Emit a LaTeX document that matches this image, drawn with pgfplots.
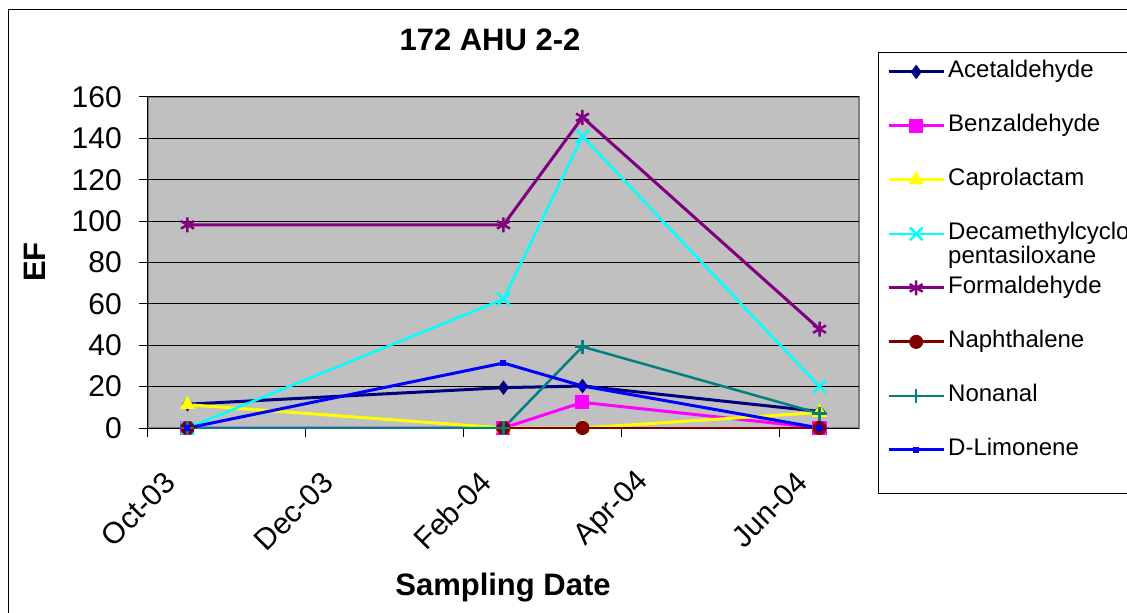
\documentclass[border=0pt]{standalone}
\usepackage{fontspec}
\setmainfont{Liberation Sans}
\usepackage{pgfplots}
\pgfplotsset{compat=1.18}
\definecolor{cNavy}{RGB}{0,0,128}
\definecolor{cMag}{RGB}{255,0,255}
\definecolor{cYel}{RGB}{255,255,0}
\definecolor{cCyan}{RGB}{0,255,255}
\definecolor{cPurp}{RGB}{128,0,128}
\definecolor{cDRed}{RGB}{128,0,0}
\definecolor{cTeal}{RGB}{0,128,128}
\definecolor{cBlue}{RGB}{0,0,255}
\definecolor{cPlot}{RGB}{192,192,192}
\definecolor{cBorder}{RGB}{128,128,128}
\begin{document}
\begin{tikzpicture}
\useasboundingbox (-148bp,-185bp) rectangle (979bp,428bp);
\draw[black, line width=1bp] (-139bp,-200bp) -- (-139bp,418bp) -- (1000bp,418bp);
\draw[black, line width=1bp] (730bp,375bp) rectangle (1000bp,-65bp);
\begin{axis}[
  scale only axis, width=711bp, height=331bp,
  xmin=0, xmax=9, ymin=0, ymax=160,
  axis lines*=left, axis line style={-, black, line width=1bp},
  axis background/.style={fill=cPlot, draw=cBorder, line width=1.5bp},
  xtick={0,2,4,6,8}, xticklabels={Oct-03,Dec-03,Feb-04,Apr-04,Jun-04},
  ytick={0,20,...,160},
  tick align=outside, major tick length=9bp,
  tick style={black, line width=1bp},
  ymajorgrids, grid style={black, line width=1bp},
  tick label style={font=\fontsize{30bp}{36bp}\selectfont},
  /pgf/number format/assume math mode=true,
  xticklabel style={xshift=22bp, yshift=-40bp, rotate=45, anchor=east, inner sep=0pt},
  yticklabel style={xshift=-17bp, anchor=east, inner sep=0pt},
  legend style={at={(1.0394,1.1097)}, anchor=north west, draw=none, fill=none, inner sep=0pt,
    font=\fontsize{24bp}{22bp}\selectfont,
    nodes={inner sep=0pt, text height=17bp, text depth=5bp},
    row sep=32bp, column sep=3bp},
  legend cell align=left,
  legend image code/.code={\draw[mark repeat=2, mark phase=2] plot coordinates {(0bp,0bp) (27.5bp,0bp) (55bp,0bp)};},
]
\addplot[cNavy, line width=3bp, mark=diamond*, mark size=6.5bp, mark options={solid, fill=cNavy, line width=1bp}]
  coordinates {(0.5,11.5) (4.5,19.5) (5.5,20.3) (8.5,8)};
\addlegendentry{Acetaldehyde}
\addplot[cMag, line width=3bp, mark=square*, mark size=6.5bp, mark options={solid, fill=cMag, line width=1bp}]
  coordinates {(0.5,0) (4.5,0) (5.5,12.4) (8.5,0)};
\addlegendentry{Benzaldehyde}
\addplot[cYel, line width=3bp, mark=triangle*, mark size=8bp, mark options={solid, fill=cYel, line width=1bp}]
  coordinates {(0.5,11.3) (4.5,0) (5.5,0) (8.5,7.5)};
\addlegendentry{Caprolactam}
\addplot[cCyan, line width=2.5bp, mark=x, mark size=9bp, mark options={solid, line width=2.5bp}]
  coordinates {(0.5,0) (4.5,62.3) (5.5,141) (8.5,20)};
\addlegendentry{\begin{tabular}[t]{@{}l@{}}Decamethylcyclo\\pentasiloxane\end{tabular}}
\addplot[cPurp, line width=3bp, mark=asterisk, mark size=7.5bp, mark options={solid, line width=2.5bp}]
  coordinates {(0.5,98.2) (4.5,98.2) (5.5,150.2) (8.5,47.8)};
\addlegendentry{Formaldehyde}
\addplot[cDRed, line width=3bp, mark=*, mark size=6.5bp, mark options={solid, fill=cDRed, line width=1bp}]
  coordinates {(0.5,0) (4.5,0) (5.5,0) (8.5,0)};
\addlegendentry{Naphthalene}
\addplot[cTeal, line width=2.5bp, mark=+, mark size=7bp, mark options={solid, line width=2.5bp}]
  coordinates {(0.5,0) (4.5,0) (5.5,39.3) (8.5,7)};
\addlegendentry{Nonanal}
\addplot[cBlue, line width=3bp, mark=square*, mark size=2.5bp, mark options={solid, fill=cBlue, line width=1bp}]
  coordinates {(0.5,0) (4.5,31.4) (5.5,20.3) (8.5,0)};
\addlegendentry{D-Limonene}
\end{axis}
\node[font=\bfseries\fontsize{31bp}{36bp}\selectfont] at (342bp,388bp) {172 AHU 2-2};
\node[font=\bfseries\fontsize{31bp}{36bp}\selectfont, rotate=90] at (-113bp,166bp) {EF};
\node[font=\bfseries\fontsize{31bp}{36bp}\selectfont] at (355bp,-160bp) {Sampling Date};
\end{tikzpicture}
\end{document}
